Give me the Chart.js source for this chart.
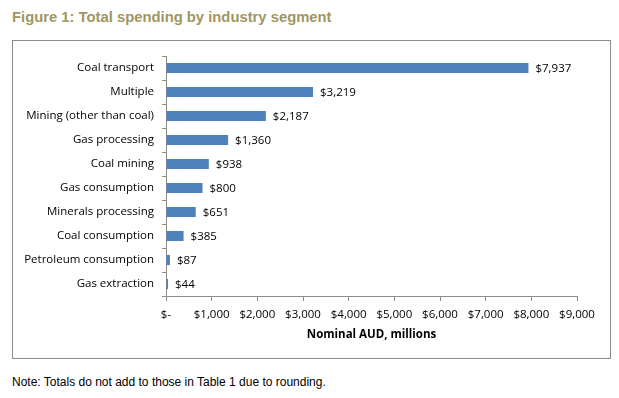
<!DOCTYPE html>
<html>
<head>
<meta charset="utf-8">
<script src="https://cdn.jsdelivr.net/npm/chart.js@4"></script>
<style>
  html, body { margin: 0; padding: 0; background: #fff; }
  body { width: 619px; height: 398px; position: relative; font-family: "Liberation Sans", Arial, sans-serif; }
  #title { position: absolute; left: 12px; top: 9px; font-size: 14.8px; font-weight: bold; color: #9f9661; }
  #box { position: absolute; left: 12px; top: 40px; width: 597px; height: 317px; border: 1px solid #8c8c8c; }
  #note { position: absolute; left: 12px; top: 375px; font-size: 12px; color: #000; }
</style>
</head>
<body>
<div id="title">Figure 1: Total spending by industry segment</div>
<div id="box"><canvas id="chart" width="597" height="317"></canvas></div>
<div id="note">Note: Totals do not add to those in Table 1 due to rounding.</div>
<script>
// Data
const segments = ['Coal transport', 'Multiple', 'Mining (other than coal)', 'Gas processing', 'Coal mining',
                  'Gas consumption', 'Minerals processing', 'Coal consumption', 'Petroleum consumption', 'Gas extraction'];
const spending = [7937, 3219, 2187, 1360, 938, 800, 651, 385, 87, 44];
const xTickLabels = ['$-', '$1,000', '$2,000', '$3,000', '$4,000', '$5,000', '$6,000', '$7,000', '$8,000', '$9,000'];

const fontFamily = '"Open Sans", "Liberation Sans", sans-serif';
const fontSize = 11.5;

// write "$7,937" etc. at the end of each bar
const valueLabels = {
    id: 'valueLabels',
    afterDatasetsDraw(chart) {
        const ctx = chart.ctx;
        const meta = chart.getDatasetMeta(0);
        ctx.save();
        ctx.font = fontSize + 'px ' + fontFamily;
        ctx.fillStyle = '#000';
        ctx.textBaseline = 'middle';
        meta.data.forEach((bar, i) => {
            ctx.fillText('$' + spending[i].toLocaleString('en-US'), bar.x + 7, bar.y + 1);
        });
        ctx.restore();
    }
};

new Chart(document.getElementById('chart'), {
    type: 'bar',
    data: {
        labels: segments,
        datasets: [{
            data: spending,
            backgroundColor: '#4f81bd',
            categoryPercentage: 1,
            barPercentage: 0.42
        }]
    },
    options: {
        indexAxis: 'y',
        responsive: false,
        animation: false,
        layout: { padding: { top: 15, right: 33, left: 0, bottom: 16 } },
        plugins: {
            legend: { display: false },
            tooltip: { enabled: false }
        },
        scales: {
            x: {
                min: 0,
                max: 9000,
                ticks: {
                    stepSize: 1000,
                    color: '#000',
                    font: { family: fontFamily, size: fontSize },
                    padding: 7,
                    callback: (v, i) => xTickLabels[i]
                },
                grid: { drawOnChartArea: false, drawTicks: true, tickLength: 5, color: '#8c8c8c' },
                border: { color: '#8c8c8c' },
                title: {
                    display: true,
                    text: 'Nominal AUD, millions',
                    color: '#000',
                    font: { family: fontFamily, size: fontSize, weight: 'bold' },
                    padding: { top: 0, bottom: 0 }
                },
                afterFit(axis) { axis.height = 46; }
            },
            y: {
                ticks: {
                    color: '#000',
                    font: { family: fontFamily, size: fontSize },
                    padding: 8
                },
                grid: { drawOnChartArea: false, drawTicks: true, tickLength: 4, color: '#8c8c8c', offset: true },
                border: { color: '#8c8c8c' },
                afterFit(axis) { axis.width = 153; }
            }
        }
    },
    plugins: [valueLabels]
});
</script>
</body>
</html>
